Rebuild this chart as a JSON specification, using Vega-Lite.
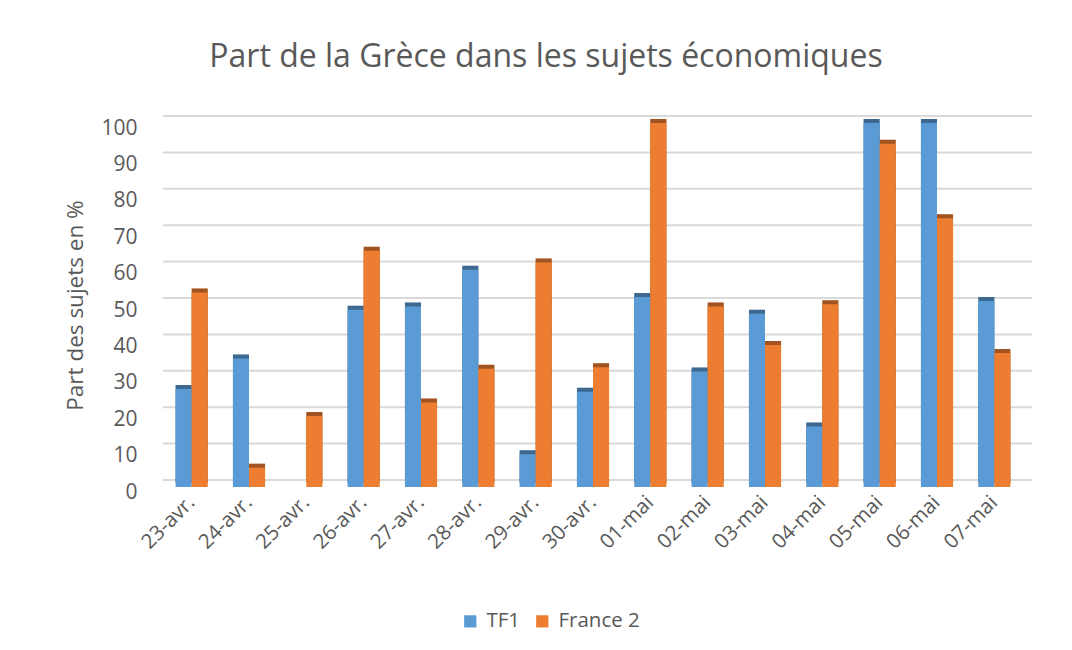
{
  "$schema": "https://vega.github.io/schema/vega-lite/v6.json",
  "width": 860,
  "height": 364,
  "autosize": {"type": "none"},
  "padding": {"left": 163, "top": 123, "right": 49, "bottom": 163},
  "background": "white",
  "title": {
    "text": "Part de la Grèce dans les sujets économiques",
    "fontSize": 32,
    "font": "Open Sans",
    "fontWeight": "normal",
    "color": "#595959",
    "anchor": "middle",
    "dx": -47,
    "offset": 41
  },
  "config": {
    "view": {"stroke": null},
    "font": "Open Sans"
  },
  "datasets": {
    "bars": [
      {"date": "23-avr.", "chaine": "TF1", "valeur": 26.9},
      {"date": "23-avr.", "chaine": "France 2", "valeur": 53.4},
      {"date": "24-avr.", "chaine": "TF1", "valeur": 35.3},
      {"date": "24-avr.", "chaine": "France 2", "valeur": 5.3},
      {"date": "25-avr.", "chaine": "TF1", "valeur": 0},
      {"date": "25-avr.", "chaine": "France 2", "valeur": 19.5},
      {"date": "26-avr.", "chaine": "TF1", "valeur": 48.7},
      {"date": "26-avr.", "chaine": "France 2", "valeur": 64.9},
      {"date": "27-avr.", "chaine": "TF1", "valeur": 49.6},
      {"date": "27-avr.", "chaine": "France 2", "valeur": 23.2},
      {"date": "28-avr.", "chaine": "TF1", "valeur": 59.7},
      {"date": "28-avr.", "chaine": "France 2", "valeur": 32.5},
      {"date": "29-avr.", "chaine": "TF1", "valeur": 9.0},
      {"date": "29-avr.", "chaine": "France 2", "valeur": 61.7},
      {"date": "30-avr.", "chaine": "TF1", "valeur": 26.2},
      {"date": "30-avr.", "chaine": "France 2", "valeur": 32.9},
      {"date": "01-mai", "chaine": "TF1", "valeur": 52.2},
      {"date": "01-mai", "chaine": "France 2", "valeur": 100},
      {"date": "02-mai", "chaine": "TF1", "valeur": 31.7},
      {"date": "02-mai", "chaine": "France 2", "valeur": 49.6},
      {"date": "03-mai", "chaine": "TF1", "valeur": 47.6},
      {"date": "03-mai", "chaine": "France 2", "valeur": 39.0},
      {"date": "04-mai", "chaine": "TF1", "valeur": 16.6},
      {"date": "04-mai", "chaine": "France 2", "valeur": 50.2},
      {"date": "05-mai", "chaine": "TF1", "valeur": 100},
      {"date": "05-mai", "chaine": "France 2", "valeur": 94.3},
      {"date": "06-mai", "chaine": "TF1", "valeur": 100},
      {"date": "06-mai", "chaine": "France 2", "valeur": 73.8},
      {"date": "07-mai", "chaine": "TF1", "valeur": 51.1},
      {"date": "07-mai", "chaine": "France 2", "valeur": 36.8}
    ],
    "grid": [
      {"v": 0}, {"v": 10}, {"v": 20}, {"v": 30}, {"v": 40}, {"v": 50},
      {"v": 60}, {"v": 70}, {"v": 80}, {"v": 90}, {"v": 100}
    ]
  },
  "layer": [
    {
      "data": {"name": "grid"},
      "mark": {"type": "rule", "color": "#D9D9D9", "strokeWidth": 2, "xOffset": 9, "x2Offset": 9, "yOffset": -7},
      "encoding": {
        "y": {"field": "v", "type": "quantitative", "scale": {"domain": [0, 100], "nice": false},
              "axis": {"title": "Part des sujets en %", "tickCount": 10, "labelOverlap": false,
                       "grid": false, "domain": false, "ticks": false, "labelOffset": 5,
                       "labelFontSize": 21, "labelColor": "#595959", "labelPadding": 26,
                       "titleFontSize": 22.5, "titleFontWeight": "normal", "titleColor": "#595959",
                       "titlePadding": 13}}
      }
    },
    {
      "data": {"name": "bars"},
      "mark": {"type": "bar", "xOffset": 5, "yOffset": -4},
      "encoding": {
        "x": {"field": "date", "type": "nominal", "sort": null,
              "scale": {"paddingInner": 0.44, "paddingOuter": 0.22}},
        "xOffset": {"field": "chaine", "type": "nominal", "sort": ["TF1", "France 2"]},
        "y": {"field": "valeur", "type": "quantitative"},
        "color": {"field": "chaine", "type": "nominal"}
      }
    },
    {
      "data": {"name": "bars"},
      "mark": {"type": "bar", "xOffset": 5, "yOffset": -4, "color": "black", "opacity": 0.32},
      "encoding": {
        "x": {"field": "date", "type": "nominal", "sort": null},
        "xOffset": {"field": "chaine", "type": "nominal", "sort": ["TF1", "France 2"]},
        "y": {"field": "valeur", "type": "quantitative"}
      }
    },
    {
      "data": {"name": "bars"},
      "mark": {"type": "bar", "opacity": 1},
      "encoding": {
        "x": {"field": "date", "type": "nominal", "sort": null,
              "axis": {"title": null, "labelAngle": -45, "labelFontSize": 20.5, "labelColor": "#595959",
                       "domain": false, "ticks": false, "labelPadding": 12}},
        "xOffset": {"field": "chaine", "type": "nominal", "sort": ["TF1", "France 2"]},
        "y": {"field": "valeur", "type": "quantitative"},
        "color": {"field": "chaine", "type": "nominal", "title": null,
                  "scale": {"domain": ["TF1", "France 2"], "range": ["#5B9BD5", "#ED7D31"]},
                  "legend": {"orient": "none", "legendX": 297, "legendY": 488, "direction": "horizontal",
                             "symbolType": "square", "symbolSize": 150, "labelFontSize": 20.5,
                             "labelColor": "#595959", "columnPadding": 11, "labelOffset": 6}}
      }
    }
  ]
}
